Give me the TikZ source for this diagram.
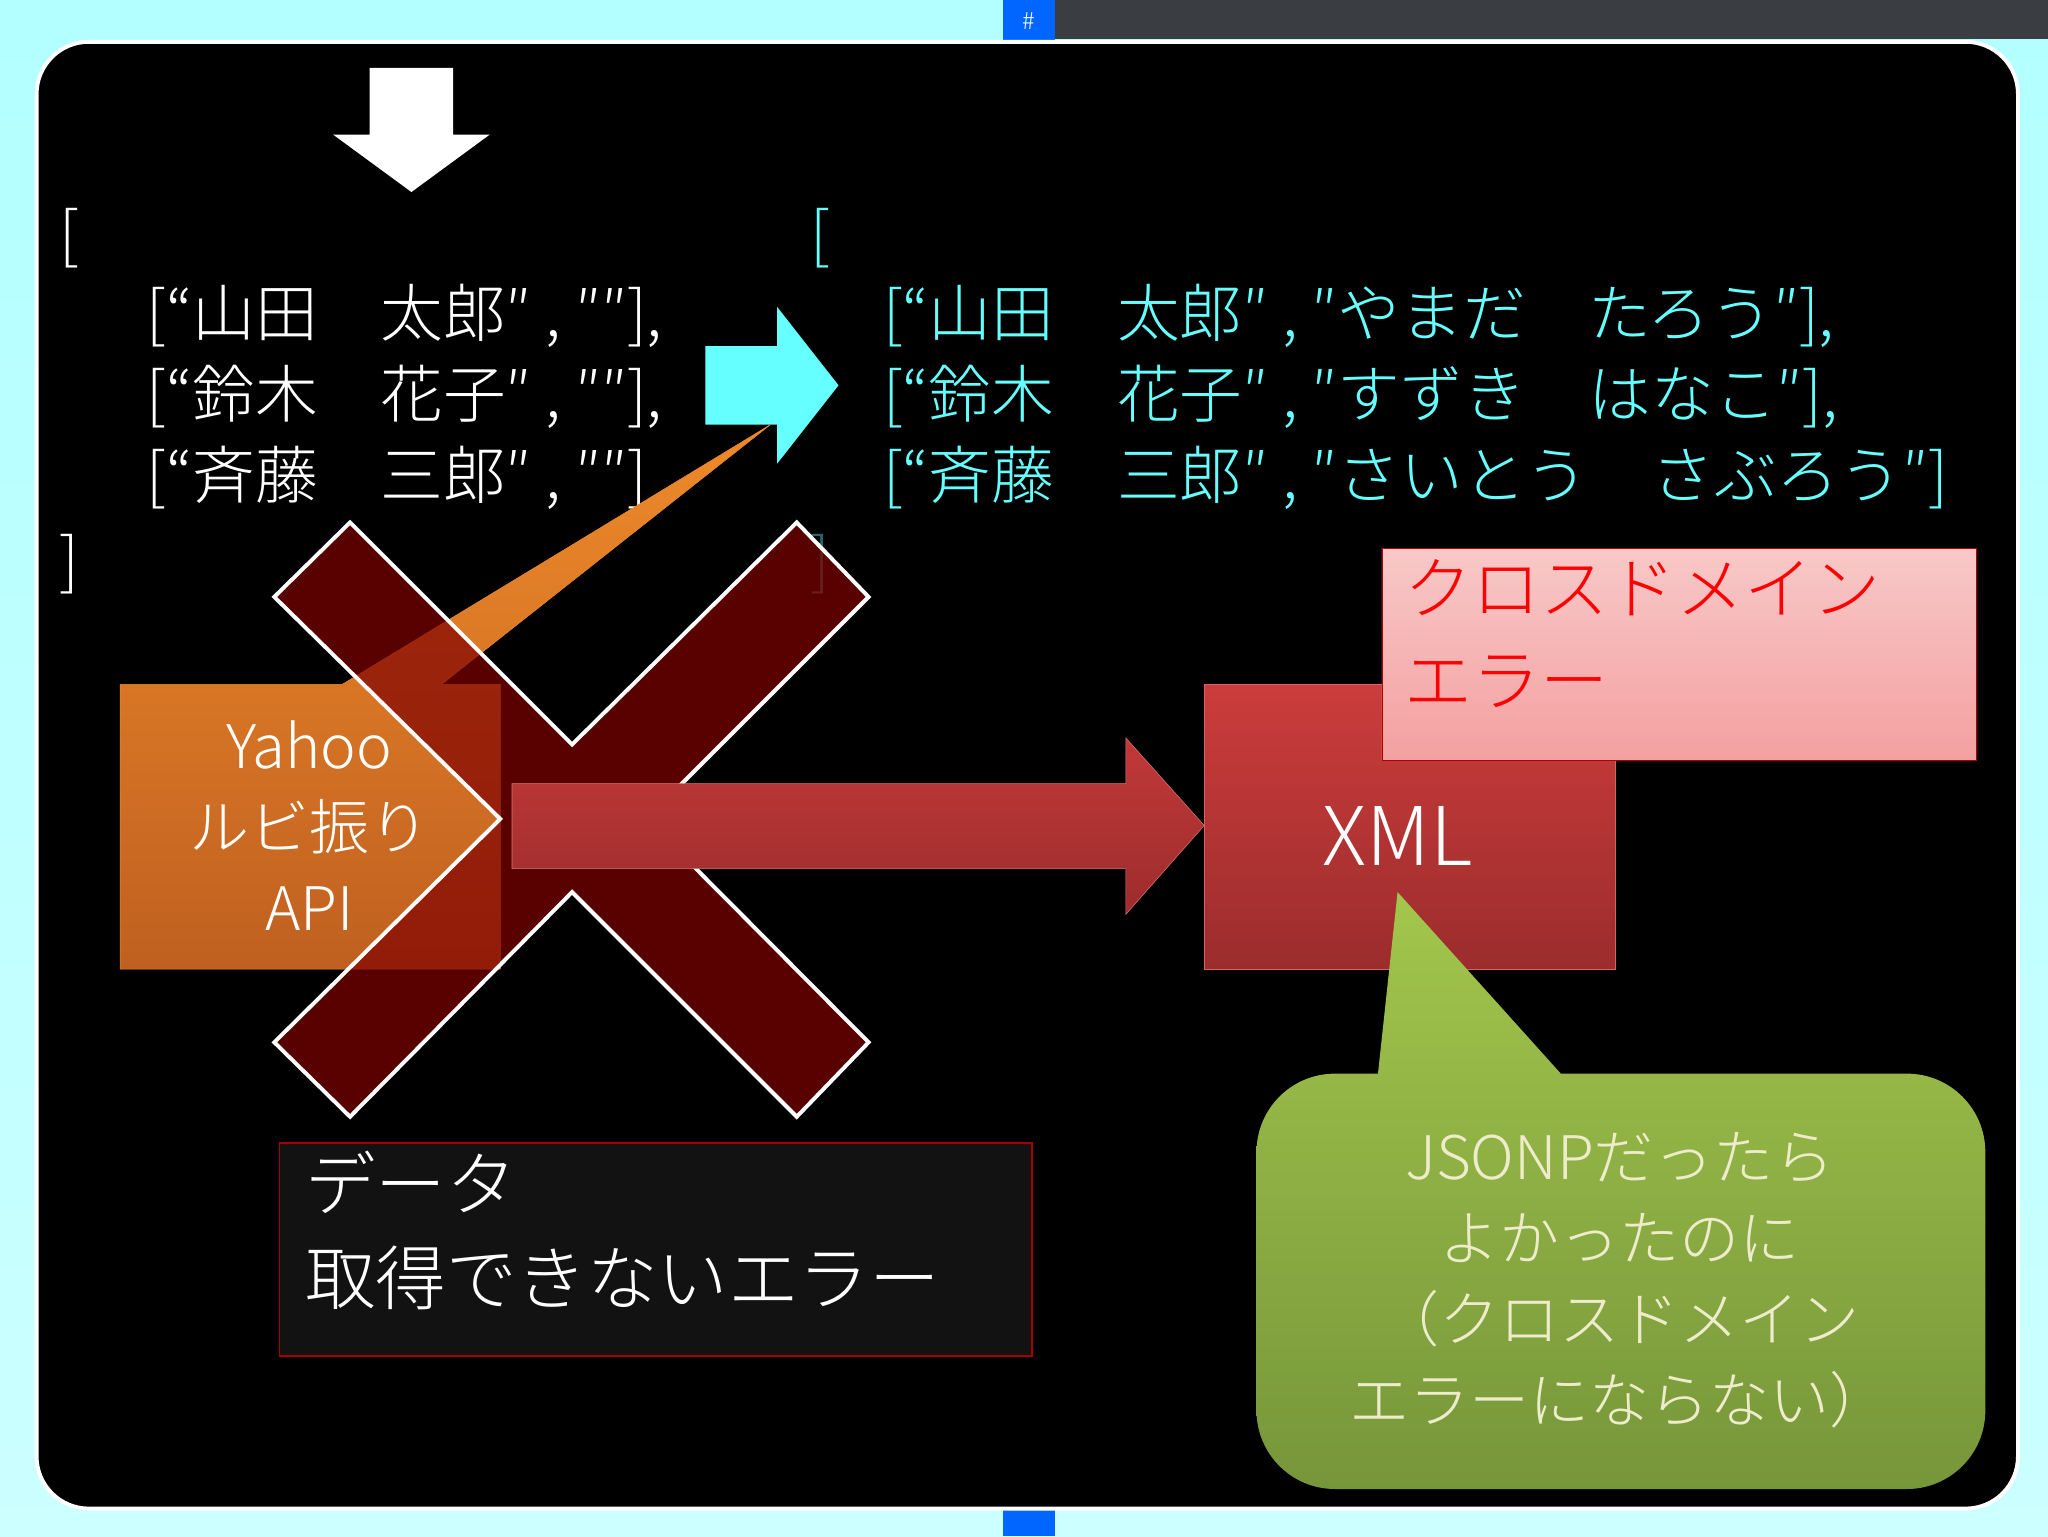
\documentclass[tikz,border=0pt]{standalone}
\usepackage{fontspec}
\setmainfont{Noto Sans CJK JP Light}
\usetikzlibrary{shapes.geometric}
\definecolor{cy}{HTML}{66FFFF}
\definecolor{dred}{HTML}{800000}
\definecolor{org1}{HTML}{EE8A2A}
\definecolor{org2}{HTML}{C06020}
\definecolor{xr1}{HTML}{CC3C3C}
\definecolor{xr2}{HTML}{9C2C2C}
\definecolor{gr1}{HTML}{A3C64C}
\definecolor{gr2}{HTML}{76963A}
\definecolor{pk1}{HTML}{F8C8C8}
\definecolor{pk2}{HTML}{F4A0A0}
\tikzset{
 txt/.style={font=\fontsize{48}{62}\selectfont, anchor=west, inner sep=0},
 big/.style={font=\fontsize{46}{62}\selectfont, align=center, text=white},
}
\begin{document}
\begin{tikzpicture}[x=1pt,y=-1pt]
\useasboundingbox (0,0) rectangle (1568,1176);
\shade[top color=cyan!30, bottom color=cyan!20] (0,0) rectangle (1568,1176);
\fill[black!85!cyan] (790,0) rectangle (1568,30);
\fill[blue!60!cyan] (768,0) rectangle (808,32);
\node[text=white, font=\fontsize{18}{20}\selectfont] (hash) at (788,16) {\#};
\fill[blue!60!cyan] (768,1150) rectangle (808,1176);
\draw[white, line width=3, fill=black, rounded corners=40] (28,32) rectangle (1545,1155);
% down arrow
\fill[white] (283,52) -- (347,52) -- (347,103) -- (375,103) -- (315,147) -- (255,103) -- (283,103) -- cycle;
% left text
\node[txt, text=white] (lb) at (45,182) {[};
\node[txt, text=white] (l1) at (112,242) {[“山田　太郎″ , ″″],};
\node[txt, text=white] (l2) at (112,304) {[“鈴木　花子″ , ″″],};
\node[txt, text=white] (l3) at (112,366) {[“斉藤　三郎″ , ″″]};
\node[txt, text=white] (rb) at (45,432) {]};
% cyan arrow
\fill[cy] (540,265) -- (595,265) -- (595,235) -- (642,295) -- (595,355) -- (595,325) -- (540,325) -- cycle;
\node[txt, text=cy] (clb) at (620,182) {[};
\node[txt, text=cy] (c1) at (676,242) {[“山田　太郎″ , ″やまだ　たろう″],};
\node[txt, text=cy] (c2) at (676,304) {[“鈴木　花子″ , ″すずき　はなこ″],};
\node[txt, text=cy] (c3) at (676,366) {[“斉藤　三郎″ , ″さいとう　さぶろう″]};
\node[txt, text=cy!40!black] (crb) at (620,432) {]};
% orange callout
\shade[top color=org1, bottom color=org2, draw=org1] (92,524) -- (262,524) -- (590,325) -- (338,524) -- (383,524) -- (383,742) -- (92,742) -- cycle;
% X
\fill[dred, opacity=0.7] (268,400) -- (438,570) -- (610,400) -- (665,457) -- (495,627) -- (665,798) -- (610,855) -- (438,683) -- (268,855) -- (210,798) -- (383,627) -- (210,457) -- cycle;
\draw[white, line width=3] (268,400) -- (438,570) -- (610,400) -- (665,457) -- (495,627) -- (665,798) -- (610,855) -- (438,683) -- (268,855) -- (210,798) -- (383,627) -- (210,457) -- cycle;
\node[big] (yahoo) at (237,632) {Yahoo\\ルビ振り\\API};
% XML box
\shade[top color=xr1, bottom color=xr2, draw=xr1!80!white] (922,524) rectangle (1237,742);
\node[text=white, font=\fontsize{62}{70}\selectfont] (xml) at (1070,640) {XML};
% red arrow
\shade[top color=xr1!95!black, bottom color=xr2, draw=xr1!70!white] (392,600) -- (862,600) -- (862,565) -- (922,632) -- (862,700) -- (862,665) -- (392,665) -- cycle;
% pink box
\shade[top color=pk1, bottom color=pk2, draw=red!70!black] (1058,420) rectangle (1513,582);
\node[font=\fontsize{52}{70}\selectfont, text=red, align=left, anchor=north west] (cross) at (1072,425) {クロスドメイン\\エラー};
% green callout
\shade[top color=gr1, bottom color=gr2] (1055,822) -- (1070,683) -- (1195,822) -- (1460,822) arc (-90:0:60) -- (1520,1080) arc (0:90:60) -- (1022,1140) arc (90:180:60) -- (962,882) arc (180:270:60) -- cycle;
\node[font=\fontsize{46}{62}\selectfont, text=white!85!olive, align=center] (jsonp) at (1240,980) {JSONPだったら\\よかったのに\\（クロスドメイン\\エラーにならない）};
% dark box
\draw[fill=black!93, draw=red!65!black, line width=1.5] (214,875) rectangle (790,1038);
\node[font=\fontsize{54}{72}\selectfont, text=white, align=left, anchor=north west] (err) at (230,878) {データ\\取得できないエラー};
\end{tikzpicture}
\end{document}
